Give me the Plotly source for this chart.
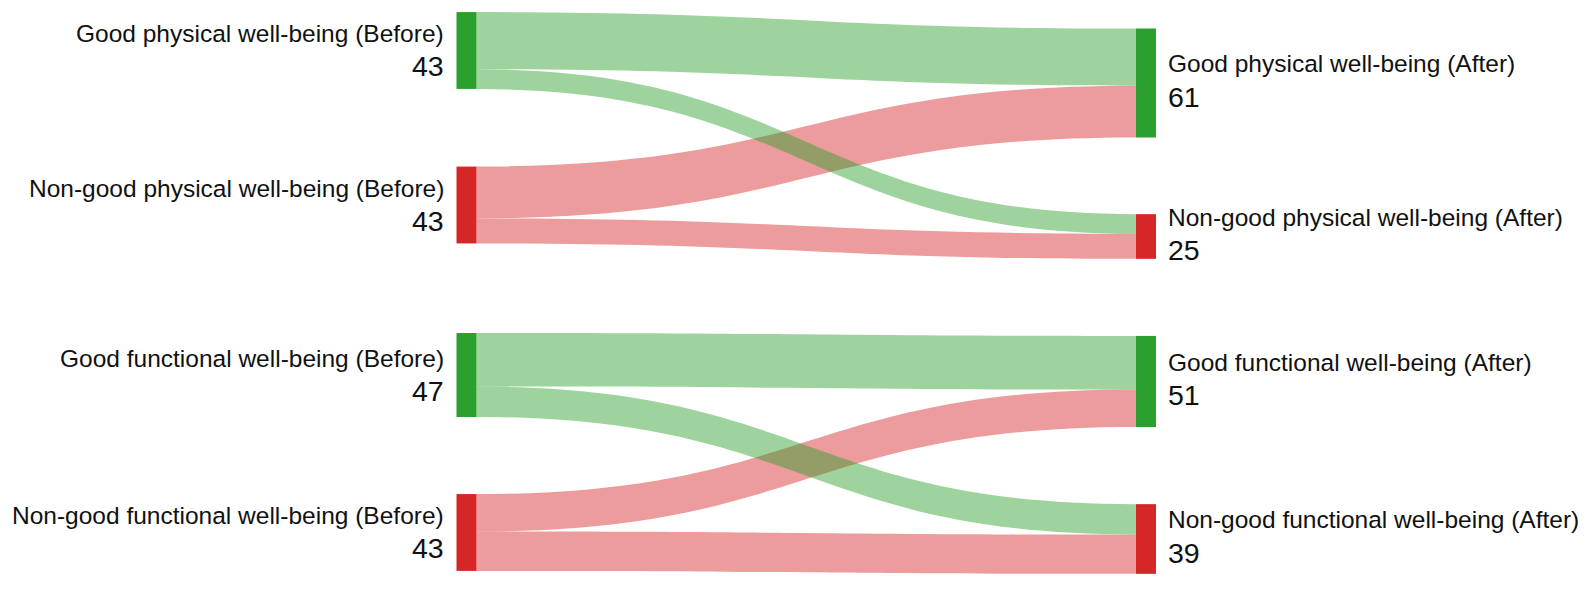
import plotly.graph_objects as go

# ---- data ----
node_names = [
    "Good physical well-being (Before)",
    "Non-good physical well-being (Before)",
    "Good functional well-being (Before)",
    "Non-good functional well-being (Before)",
    "Good physical well-being (After)",
    "Non-good physical well-being (After)",
    "Good functional well-being (After)",
    "Non-good functional well-being (After)",
]
node_totals = [43, 43, 47, 43, 61, 25, 51, 39]
link_source = [1, 1, 3, 3, 0, 0, 2, 2]
link_target = [4, 5, 6, 7, 4, 5, 6, 7]
link_value = [29, 14, 21, 22, 32, 11, 30, 17]

# ---- style / layout ----
GREEN = "#2ca02c"
RED = "#d62728"
GREEN_T = "rgba(44,160,44,0.46)"
RED_T = "rgba(214,39,40,0.46)"
node_is_good = [True, False, True, False, True, False, True, False]
node_colors = [GREEN if g else RED for g in node_is_good]
link_colors = [GREEN_T if node_is_good[s] else RED_T for s in link_source]

PAGE_OFF = 8  # page body margin
W, H = 1595 - 2 * PAGE_OFF, 590 - 2 * PAGE_OFF
SCALE = 1.787  # px per unit
X_LEFT, X_RIGHT = 466.5 - PAGE_OFF, 1146.0 - PAGE_OFF
node_x_px = [X_LEFT] * 4 + [X_RIGHT] * 4
node_y_px = [v - PAGE_OFF for v in [50.5, 205.0, 375.0, 532.5, 83.0, 236.5, 381.5, 539.0]]
pad = (H - SCALE * sum(node_totals[:4])) / 3

fig = go.Figure(go.Sankey(
    arrangement="fixed",
    domain=dict(x=[0, 1], y=[0, 1]),
    node=dict(
        label=["" for _ in node_names],
        color=node_colors,
        thickness=20,
        pad=pad,
        line=dict(width=0),
        x=[v / W for v in node_x_px],
        y=[v / H for v in node_y_px],
        customdata=node_names,
        hovertemplate="%{customdata}: %{value}<extra></extra>",
    ),
    link=dict(
        source=link_source,
        target=link_target,
        value=link_value,
        color=link_colors,
    ),
))

FONT = "Liberation Sans, Arial, sans-serif"
for i, name in enumerate(node_names):
    left = node_x_px[i] < W / 2
    label_dy = -16.5 if left else -19.5
    number_dy = 15.5 if left else 13.5
    ax = (node_x_px[i] - 21) / W if left else (node_x_px[i] + 20) / W
    common = dict(
        x=ax, xref="paper", yref="paper",
        xanchor="right" if left else "left",
        yanchor="middle",
        align="right" if left else "left",
        showarrow=False,
    )
    fig.add_annotation(
        y=1 - (node_y_px[i] + label_dy) / H,
        text=name,
        font=dict(family=FONT, size=24.5, color="#111111"),
        **common,
    )
    fig.add_annotation(
        y=1 - (node_y_px[i] + number_dy) / H,
        text=str(node_totals[i]),
        font=dict(family=FONT, size=28.5, color="#111111"),
        **common,
    )

fig.update_layout(
    width=W, height=H,
    margin=dict(l=0, r=0, t=0, b=0),
    paper_bgcolor="white",
    plot_bgcolor="white",
    font=dict(family=FONT),
)

fig.write_html("out.html")
